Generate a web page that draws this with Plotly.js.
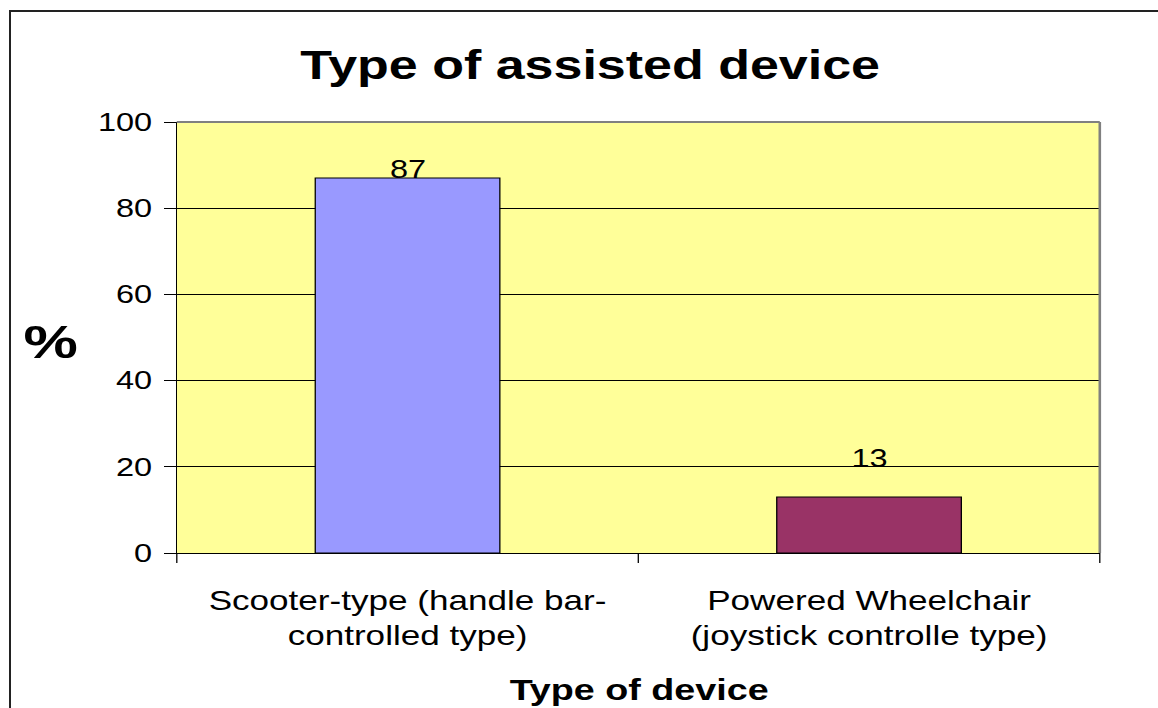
<!DOCTYPE html>
<html><head><meta charset="utf-8">
<script src="https://cdn.plot.ly/plotly-3.0.1.min.js"></script>
<style>
body{margin:0;padding:0;background:#fff;overflow:hidden;}
#frame{position:absolute;left:9px;top:10px;width:1300px;height:900px;border-left:2px solid #222;border-top:2px solid #222;pointer-events:none;z-index:5;}
#chart{position:absolute;left:0;top:0;width:891px;height:708px;transform:scaleX(1.3);transform-origin:0 0;}
</style></head>
<body>
<div id="chart"></div>
<div id="frame"></div>
<script>
const categories = ["Scooter-type (handle bar-<br>controlled type)", "Powered Wheelchair<br>(joystick controlle type)"];
const percents = [87, 13];
const barColors = ["#9999FF", "#993366"];
const yTicks = [0, 20, 40, 60, 80, 100];

const FONT = "Liberation Sans, Arial, sans-serif";
const LABEL_SHIFTS = [-7, 23];

const trace = {
  type: "bar",
  x: categories,
  y: percents,
  marker: {color: barColors, line: {color: "#000", width: 1}},
  width: 0.4,
  hoverinfo: "none"
};

const valueLabels = categories.map((c, i) => ({
  x: c, y: percents[i], xref: "x", yref: "y",
  text: String(percents[i]), showarrow: false,
  xanchor: "center", yanchor: "bottom", yshift: LABEL_SHIFTS[i],
  font: {family: FONT, size: 25, color: "#000"}
}));

const layout = {
  width: 891, height: 708,
  margin: {l: 136, r: 45, t: 122, b: 155},
  paper_bgcolor: "rgba(0,0,0,0)",
  plot_bgcolor: "#FFFF99",
  showlegend: false,
  font: {family: FONT, color: "#000"},
  title: {text: "<b>Type of assisted device</b>", x: 0.5095, xanchor: "center", y: 0.908, yanchor: "middle",
          font: {family: FONT, size: 40, color: "#000"}},
  xaxis: {
    type: "category",
    tickfont: {family: FONT, size: 27},
    ticklabelstandoff: 24,
    showline: true, linecolor: "#000", linewidth: 1,
    showgrid: false, zeroline: false,
    ticks: "", fixedrange: true
  },
  yaxis: {
    range: [0, 100],
    tickvals: yTicks,
    ticktext: yTicks.map(String),
    tickfont: {family: FONT, size: 25},
    ticklabelstandoff: 4,
    ticks: "outside", ticklen: 9, tickcolor: "#000",
    showline: true, linecolor: "#000", linewidth: 1,
    showgrid: true, gridcolor: "#000", gridwidth: 1,
    zeroline: false, fixedrange: true
  },
  shapes: [
    {type: "line", xref: "paper", yref: "paper", x0: 1, x1: 1, y0: 0, y1: 1, line: {color: "#808080", width: 2}},
    {type: "line", xref: "paper", yref: "paper", x0: 0, x1: 1, y0: 1, y1: 1, line: {color: "#808080", width: 2}},
    {type: "line", xref: "paper", yref: "paper", x0: 0, x1: 0, y0: 0, y1: -0.023, line: {color: "#000", width: 1}},
    {type: "line", xref: "paper", yref: "paper", x0: 0.5, x1: 0.5, y0: 0, y1: -0.023, line: {color: "#000", width: 1}},
    {type: "line", xref: "paper", yref: "paper", x0: 1, x1: 1, y0: 0, y1: -0.023, line: {color: "#000", width: 1}}
  ],
  annotations: valueLabels.concat([
    {text: "<b>%</b>", xref: "paper", yref: "paper", x: -0.137, y: 0.49, xanchor: "center", yanchor: "middle",
     showarrow: false, font: {family: FONT, size: 47, color: "#000"}},
    {text: "<b>Type of device</b>", xref: "paper", yref: "paper", x: 0.5, y: -0.318, xanchor: "center", yanchor: "middle",
     showarrow: false, font: {family: FONT, size: 29, color: "#000"}}
  ])
};

Plotly.newPlot("chart", [trace], layout, {displayModeBar: false, staticPlot: true});
</script>
</body></html>
